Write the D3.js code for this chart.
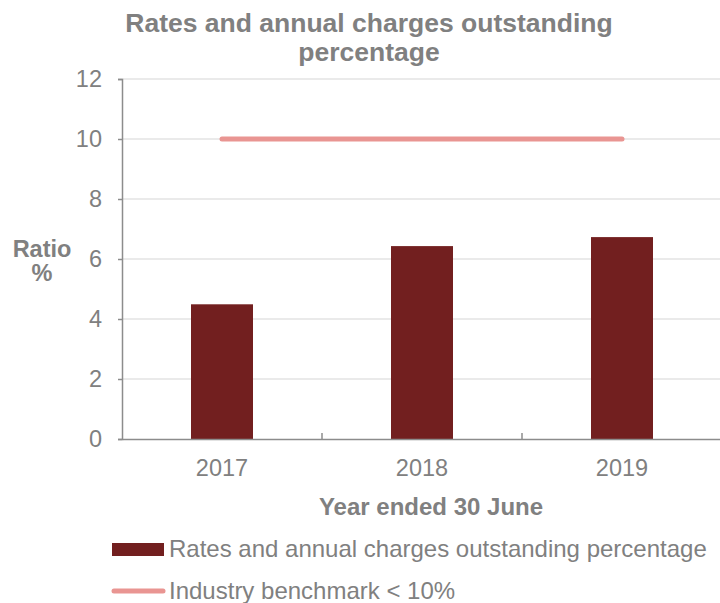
<!DOCTYPE html>
<html>
<head>
<meta charset="utf-8">
<script src="https://cdn.jsdelivr.net/npm/d3@7"></script>
<style>
  html, body { margin: 0; padding: 0; background: #ffffff; }
  svg { display: block; }
  text { font-family: "Liberation Sans", Arial, sans-serif; fill: #808080; }
</style>
</head>
<body>
<svg id="chart" width="720" height="603"></svg>
<script>
// Chart data
const years = ["2017", "2018", "2019"];
const outstandingPct = [4.49, 6.43, 6.73];
const benchmarkPct = [10, 10, 10];
const yTicks = [0, 2, 4, 6, 8, 10, 12];
const titleLines = ["Rates and annual charges outstanding", "percentage"];
const seriesNames = ["Rates and annual charges outstanding percentage", "Industry benchmark < 10%"];

const barColor = "#721f1f";
const lineColor = "#e99592";
const axisColor = "#8c8c8c";
const gridColor = "#e3e3e3";
const fontStack = "'Liberation Sans', Arial, sans-serif";

const svg = d3.select("#chart");

const plot = { left: 122, right: 722, top: 79, bottom: 439 };

const x = d3.scaleBand().domain(years).range([plot.left, plot.right]).padding(0);
const y = d3.scaleLinear().domain([0, 12]).range([plot.bottom, plot.top]);
const barWidth = x.bandwidth() * 0.31;

// Title
svg.append("text")
  .attr("x", 369).attr("y", 32)
  .attr("text-anchor", "middle")
  .style("font-size", "26.5px").style("font-weight", "bold")
  .selectAll("tspan").data(titleLines).join("tspan")
  .attr("x", 369).attr("dy", (d, i) => i === 0 ? 0 : 29)
  .text(d => d);

// Horizontal gridlines
svg.append("g").selectAll("line").data(yTicks.filter(t => t > 0)).join("line")
  .attr("x1", plot.left).attr("x2", 720)
  .attr("y1", d => y(d)).attr("y2", d => y(d))
  .attr("stroke", gridColor).attr("stroke-width", 1.5);

// Y axis
const yAxis = svg.append("g")
  .attr("transform", `translate(${plot.left},0)`)
  .call(d3.axisLeft(y).tickValues(yTicks).tickSize(4).tickPadding(16).tickFormat(d3.format("d")));
yAxis.select(".domain").attr("stroke", axisColor).attr("stroke-width", 1.5);
yAxis.selectAll(".tick line").attr("stroke", axisColor).attr("stroke-width", 1.5);
yAxis.selectAll(".tick text")
  .style("font-size", "23.5px").style("font-family", fontStack)
  .attr("fill", "#808080");

// Bars
svg.append("g").selectAll("rect").data(years).join("rect")
  .attr("x", d => x(d) + x.bandwidth() / 2 - barWidth / 2)
  .attr("width", barWidth)
  .attr("y", (d, i) => y(outstandingPct[i]))
  .attr("height", (d, i) => y(0) - y(outstandingPct[i]))
  .attr("fill", barColor);

// X axis
const xAxis = svg.append("g")
  .attr("transform", `translate(0,${plot.bottom})`)
  .call(d3.axisBottom(x).tickSize(0).tickPadding(20));
xAxis.select(".domain").attr("stroke", axisColor).attr("stroke-width", 1.5);
xAxis.selectAll(".tick text")
  .style("font-size", "23.5px").style("font-family", fontStack)
  .attr("fill", "#808080");

// Upward tick marks at category boundaries
svg.append("g").selectAll("line").data(years.slice(1)).join("line")
  .attr("x1", d => x(d)).attr("x2", d => x(d))
  .attr("y1", plot.bottom).attr("y2", plot.bottom - 6)
  .attr("stroke", axisColor).attr("stroke-width", 1.5);

// Benchmark line
const line = d3.line()
  .x((d, i) => x(years[i]) + x.bandwidth() / 2)
  .y(d => y(d));
svg.append("path")
  .datum(benchmarkPct)
  .attr("d", line)
  .attr("fill", "none")
  .attr("stroke", lineColor)
  .attr("stroke-width", 5)
  .attr("stroke-linecap", "round");

// Axis titles
svg.append("text")
  .attr("x", 431).attr("y", 515)
  .attr("text-anchor", "middle")
  .style("font-size", "24px").style("font-weight", "bold")
  .text("Year ended 30 June");

svg.append("text")
  .attr("text-anchor", "middle")
  .style("font-size", "23.5px").style("font-weight", "bold")
  .selectAll("tspan").data(["Ratio", "%"]).join("tspan")
  .attr("x", 42).attr("y", (d, i) => 257 + i * 24)
  .text(d => d);

// Legend
const legend = svg.append("g");
legend.append("rect")
  .attr("x", 112).attr("y", 543).attr("width", 52).attr("height", 13)
  .attr("fill", barColor);
legend.append("text")
  .attr("x", 169).attr("y", 557)
  .style("font-size", "24px")
  .text(seriesNames[0]);
legend.append("line")
  .attr("x1", 114).attr("x2", 163).attr("y1", 591).attr("y2", 591)
  .attr("stroke", lineColor).attr("stroke-width", 5).attr("stroke-linecap", "round");
legend.append("text")
  .attr("x", 169).attr("y", 599)
  .style("font-size", "24px")
  .text(seriesNames[1]);
</script>
</body>
</html>
